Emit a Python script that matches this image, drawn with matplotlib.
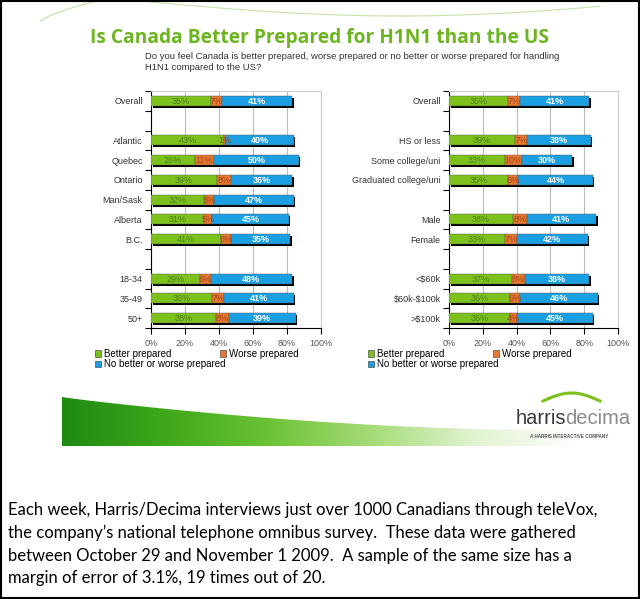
import numpy as np
import matplotlib
matplotlib.use("Agg")
import matplotlib.pyplot as plt
from matplotlib.patches import Rectangle, Polygon

# ---- data ----
left_labels = ["Overall", "", "Atlantic", "Quebec", "Ontario", "Man/Sask", "Alberta", "B.C.",
               "", "18-34", "35-49", "50+"]
left_better = [35, None, 43, 26, 39, 32, 31, 41, None, 29, 36, 38]
left_worse = [7, None, 1, 11, 8, 5, 5, 6, None, 6, 7, 8]
left_nodiff = [41, None, 40, 50, 36, 47, 45, 35, None, 48, 41, 39]

right_labels = ["Overall", "", "HS or less", "Some college/uni", "Graduated college/uni", "",
                "Male", "Female", "", "<\\$60k", "\\$60k-\\$100k", ">\\$100k"]
right_better = [35, None, 39, 33, 35, None, 38, 33, None, 37, 36, 36]
right_worse = [7, None, 7, 10, 6, None, 8, 7, None, 8, 6, 4]
right_nodiff = [41, None, 38, 30, 44, None, 41, 42, None, 38, 46, 45]

series_names = ["Better prepared", "Worse prepared", "No better or worse prepared"]
colors = ["#7cc11c", "#e8772e", "#1b9fe3"]
text_colors = ["#4f7f1d", "#9a4a1e", "white"]
x_ticks = [0, 20, 40, 60, 80, 100]

W, H = 640, 599
fig = plt.figure(figsize=(W / 100, H / 100), dpi=100)
fig.patch.set_facecolor("white")


def fx(px):
    return px / W


def fy(py):
    return 1 - py / H


def draw_panel(rect, labels, better, worse, nodiff, legend_xy):
    ax = fig.add_axes(rect)
    ys = np.arange(len(labels))
    for i in ys:
        if better[i] is None:
            continue
        vals = [better[i], worse[i], nodiff[i]]
        total = sum(vals)
        # drop shadow
        ax.barh(i + 0.1, total, left=0.9, height=0.5, color="black", zorder=2)
        left = 0
        for k, v in enumerate(vals):
            ax.barh(i, v, left=left, height=0.5, color=colors[k], zorder=3,
                    edgecolor="#555555", linewidth=0.3)
            ax.text(left + v / 2, i + 0.03, f"{v}%", ha="center", va="center",
                    fontsize=6.5, color=text_colors[k], zorder=4,
                    fontweight="bold" if k == 2 else "normal",
                    family="Liberation Sans")
            left += v
    ax.set_xlim(0, 100)
    ax.set_ylim(len(labels) - 0.5, -0.5)
    ax.set_xticks(x_ticks)
    ax.set_xticklabels([f"{t}%" for t in x_ticks], fontsize=6.5, color="#555555",
                       family="Liberation Sans")
    ax.set_yticks(ys)
    ax.set_yticklabels(labels, fontsize=6.5, color="#333333", family="Liberation Sans")
    ax.tick_params(axis="y", length=0, pad=6)
    ax.set_yticks(np.arange(len(labels) + 1) - 0.5, minor=True)
    ax.tick_params(axis="y", which="minor", length=4, width=0.8, direction="out")
    ax.tick_params(axis="x", length=4, width=0.8, direction="out", pad=4)
    ax.grid(axis="x", color="#bbbbbb", linewidth=0.8, zorder=0)
    for s in ["top", "right"]:
        ax.spines[s].set_color("#cccccc")
        ax.spines[s].set_linewidth(0.8)
    for s in ["left", "bottom"]:
        ax.spines[s].set_color("black")
        ax.spines[s].set_linewidth(0.8)
    ax.set_axisbelow(True)

    handles = [Rectangle((0, 0), 1, 1, facecolor=colors[k], edgecolor="#333333", linewidth=0.4)
               for k in (0, 2, 1)]
    names = [series_names[k] for k in (0, 2, 1)]
    fig.legend(handles, names, loc="upper left", bbox_to_anchor=legend_xy, ncol=2,
               frameon=False, handlelength=0.6, handleheight=0.6,
               handletextpad=0.3, columnspacing=-0.5, labelspacing=0.05,
               borderpad=0, borderaxespad=0, prop={"family": "Liberation Sans", "size": 7})
    return ax


draw_panel([fx(151), fy(328), fx(170), fy(91) - fy(328)], left_labels, left_better,
           left_worse, left_nodiff, (fx(95), fy(349)))
draw_panel([fx(449), fy(328), fx(169), fy(91) - fy(328)], right_labels, right_better,
           right_worse, right_nodiff, (fx(368), fy(349)))

# title and question
fig.text(fx(90), fy(38), "Is Canada Better Prepared for H1N1 than the US", fontsize=13.8,
         fontweight="bold", color="#6cb520", family="Open Sans", va="center", ha="left")
fig.text(fx(145), fy(62), "Do you feel Canada is better prepared, worse prepared or no better or "
         "worse prepared for handling\nH1N1 compared to the US?", fontsize=6.8,
         color="#333333", family="Liberation Sans", va="center", ha="left", linespacing=1.15)

# faint decorative curves at top
deco = fig.add_axes([0, fy(30), 1, fy(0) - fy(30)])
deco.set_xlim(0, W)
deco.set_ylim(30, 0)
deco.axis("off")
t = np.linspace(0, 1, 100)
deco.plot(40 + 60 * t, 22 - 22 * t ** 0.7, color="#c5e3a5", lw=0.8)
deco.plot(150 + 450 * t, 2 + 14 * np.sin(np.pi * t * 0.9), color="#c5e3a5", lw=0.8)

# green swoosh banner
sw = fig.add_axes([0, fy(460), 1, fy(380) - fy(460)])
sw.set_xlim(0, W)
sw.set_ylim(460, 380)
sw.axis("off")
grad = np.linspace(0, 1, 256)[None, :]
cmap = matplotlib.colors.LinearSegmentedColormap.from_list(
    "sw", ["#1f8a12", "#3fa81a", "#6cc236", "#a6dc78", "#e2f3d2", "#ffffff"])
img = sw.imshow(grad, extent=[62, 580, 446, 395], aspect="auto", cmap=cmap, zorder=1)
xs = np.linspace(62, 580, 200)
top_edge = 397 + 33 * np.sin(np.pi * (xs - 62) / 1000) ** 0.9
poly = np.vstack([np.column_stack([xs, top_edge]), [[580, 446], [62, 446]]])
clip = Polygon(poly, closed=True, transform=sw.transData, facecolor="none", edgecolor="none")
sw.add_patch(clip)
img.set_clip_path(clip)

# logo
fig.text(fx(516), fy(419), "harris", fontsize=14.5, color="#3a3a3a", family="Liberation Sans",
         va="center", ha="left")
fig.text(fx(565), fy(419), "decima", fontsize=14.5, color="#8a8a8a", family="Liberation Sans",
         va="center", ha="left", fontweight="light")
fig.text(fx(530), fy(436), "A HARRIS INTERACTIVE COMPANY", fontsize=3.3, color="#555555",
         family="Liberation Sans", va="center", ha="left", fontweight="bold")
sw.plot(np.linspace(543, 600, 30), 401 - 8 * np.sin(np.linspace(0, np.pi, 30)),
        color="#7cc11c", lw=2.2, zorder=3)

# footnote
foot = ("Each week, Harris/Decima interviews just over 1000 Canadians through teleVox,\n"
        "the company\u2019s national telephone omnibus survey.  These data were gathered\n"
        "between October 29 and November 1 2009.  A sample of the same size has a\n"
        "margin of error of 3.1%, 19 times out of 20.")
fig.text(fx(8), fy(544), foot, fontsize=12, color="black", family="Lato", va="center",
         ha="left", linespacing=1.5)

# outer border
fig.patches.append(Rectangle((0.001, 0.001), 0.997, 0.997, transform=fig.transFigure,
                             fill=False, edgecolor="black", linewidth=1.5))

fig.savefig("out.png", dpi=100)
